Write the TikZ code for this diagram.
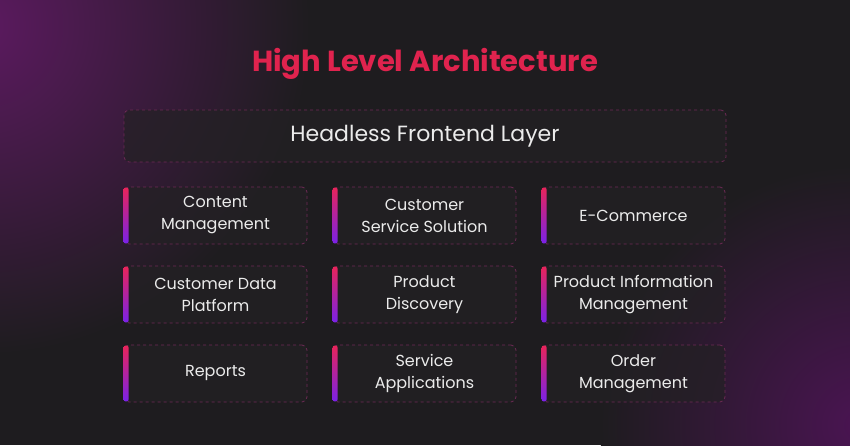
\documentclass[tikz,border=0pt]{standalone}
\usepackage{fontspec}
\setmainfont{Poppins}
\usetikzlibrary{fadings,calc}
\definecolor{bg}{HTML}{1E1C1F}
\definecolor{glow}{HTML}{5C1A60}
\definecolor{glowb}{HTML}{4A1452}
\definecolor{ttl}{HTML}{E0234E}
\definecolor{bord}{HTML}{6E2A55}
\definecolor{boxf}{HTML}{232124}
\definecolor{bartop}{HTML}{E8245A}
\definecolor{barbot}{HTML}{7A22E8}
\tikzset{
 cell/.style={draw=bord,dashed,fill=boxf,fill opacity=0.7,text opacity=1,rounded corners=5pt,minimum width=183pt,minimum height=57pt,text=white!92!black,align=center,font=\fontsize{16}{22}\selectfont,line width=0.8pt},
}
\newcommand{\cellbox}[4]{% name, x, y(top px), text
 \node[cell] (#1) at (#2+91.5pt,445pt-#3-28.5pt) {#4};
 \shade[top color=bartop,bottom color=barbot,rounded corners=2pt] ($(#1.north west)+(0,-1pt)$) rectangle ($(#1.south west)+(5pt,1pt)$);
}
\begin{document}
\begin{tikzpicture}[x=1pt,y=1pt]
\fill[bg] (0,0) rectangle (850,445);
\begin{scope}
\clip (0,0) rectangle (850,445);
\shade[inner color=glow,outer color=bg] (-20,420) circle (330);
\shade[inner color=glowb,outer color=bg] (860,20) circle (260);
\end{scope}
\node[text=ttl,font=\fontsize{29}{34}\selectfont\bfseries] (title) at (425,445-64) {High Level Architecture};
\node[cell,minimum width=602pt,minimum height=52pt,font=\fontsize{22}{26}\selectfont] (head) at (425,445-136) {Headless Frontend Layer};
\cellbox{a}{124}{187}{Content\\Management}
\cellbox{b}{333}{187}{Customer\\Service Solution}
\cellbox{c}{542}{187}{E-Commerce}
\cellbox{d}{124}{266}{Customer Data\\Platform}
\cellbox{e}{333}{266}{Product\\Discovery}
\cellbox{f}{542}{266}{Product Information\\Management}
\cellbox{g}{124}{345}{Reports}
\cellbox{h}{333}{345}{Service\\Applications}
\cellbox{i}{542}{345}{Order\\Management}
\useasboundingbox (0,0) rectangle (850,445);
\end{tikzpicture}
\end{document}
